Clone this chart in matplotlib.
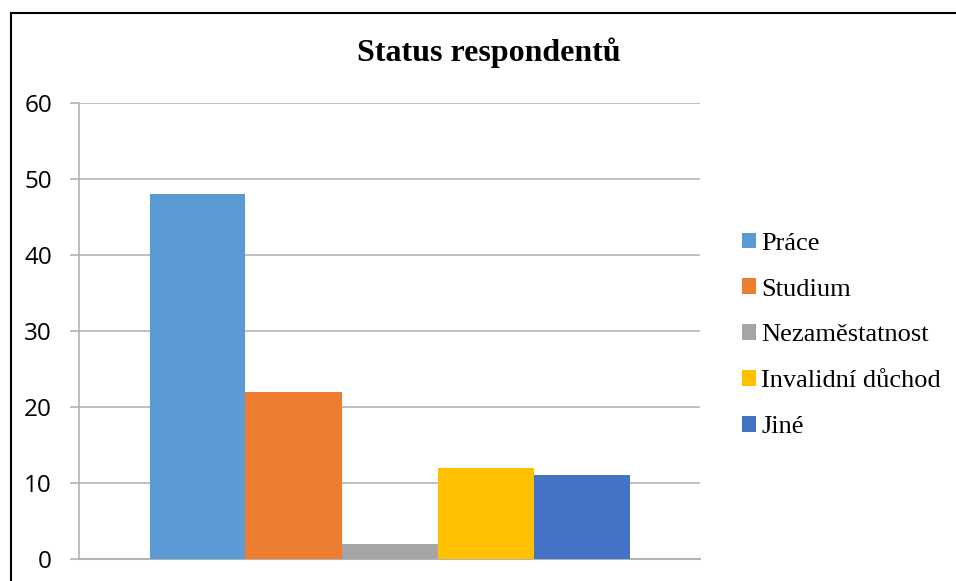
import matplotlib.pyplot as plt
from matplotlib.patches import Patch
from matplotlib.lines import Line2D

plt.rcParams["font.family"] = ["Open Sans", "DejaVu Sans"]

# survey answers: respondent status
labels = ["Práce", "Studium", "Nezaměstatnost", "Invalidní důchod", "Jiné"]
counts = [48, 22, 2, 12, 11]
colors = ["#5B9BD5", "#ED7D31", "#A5A5A5", "#FFC000", "#4472C4"]
yticks = [0, 10, 20, 30, 40, 50, 60]

W, H = 956, 581
fig = plt.figure(figsize=(W / 100, H / 100), dpi=100)

# plot area in pixel terms
left, right, top, bottom = 79, 700, 103, 559
ax = fig.add_axes([left / W, 1 - bottom / H, (right - left) / W, (bottom - top) / H])

grid_c = "#B3B3B3"
bar_w = 96 / (right - left)
start = 0.5 - bar_w * len(counts) / 2
for i, (lab, v, c) in enumerate(zip(labels, counts, colors)):
    ax.bar(start + bar_w * (i + 0.5), v, width=bar_w, color=c, label=lab, zorder=3)

ax.set_xlim(0, 1)
ax.set_ylim(0, 60)
ax.set_yticks(yticks)
ax.set_xticks([])
ax.grid(axis="y", color=grid_c, linewidth=1.2, zorder=0)
for s in ["top", "right"]:
    ax.spines[s].set_visible(False)
ax.spines["left"].set_color(grid_c)
ax.spines["left"].set_linewidth(1.2)
ax.spines["bottom"].set_color(grid_c)
ax.spines["bottom"].set_linewidth(1.5)
ax.tick_params(axis="y", length=6.5, width=1.2, color=grid_c, pad=13,
               labelsize=17.5, labelcolor="#000000")

fig.text(489 / W, 1 - 53 / H, "Status respondentů", ha="center", va="center",
         fontsize=23, fontweight="bold", family="Liberation Serif")

handles = [Patch(facecolor=c, edgecolor="none") for c in colors]
fig.legend(handles, labels, loc="upper left", bbox_to_anchor=(731 / W, 1 - 222 / H),
           frameon=False, prop={"family": "Liberation Serif", "size": 19},
           handlelength=0.55, handleheight=0.55, handletextpad=0.2,
           labelspacing=0.89, borderaxespad=0)

# outer frame: left and top edges visible
fig.add_artist(Line2D([10.5 / W, 10.5 / W], [0, 1 - 12.5 / H], color="black",
                      linewidth=1.5, transform=fig.transFigure))
fig.add_artist(Line2D([10.5 / W, 1], [1 - 12.5 / H, 1 - 12.5 / H], color="black",
                      linewidth=1.5, transform=fig.transFigure))

fig.savefig("out.png", dpi=100)
